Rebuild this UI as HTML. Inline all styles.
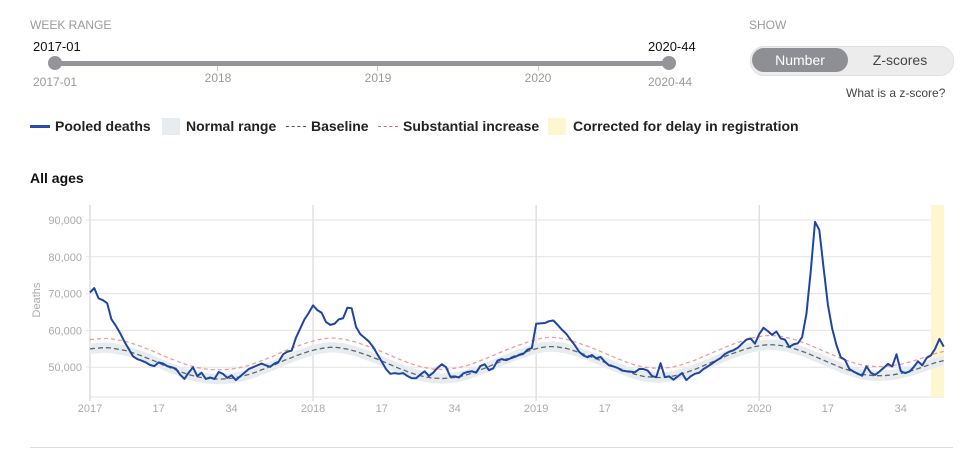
<!DOCTYPE html>
<html><head><meta charset="utf-8">
<style>
body{margin:0;width:977px;height:473px;background:#fff;font-family:"Liberation Sans",Arial,sans-serif;position:relative;overflow:hidden}
.abs{position:absolute;white-space:nowrap}
.lbl{color:#9a9a9a;font-size:12px}
.leg{font-size:14px;font-weight:bold;color:#222;top:118px}
.ctr{transform:translateX(-50%)}
</style></head><body>
<div class="abs lbl" style="left:30px;top:18px">WEEK RANGE</div>
<div class="abs" style="left:33px;top:39px;font-size:13px;color:#111">2017-01</div>
<div class="abs" style="left:648px;top:39px;font-size:13px;color:#111">2020-44</div>
<div class="abs" style="left:55px;top:61px;width:614px;height:5px;background:#94959a"></div>
<div class="abs" style="left:48px;top:56px;width:14px;height:14px;border-radius:50%;background:#94959a"></div>
<div class="abs" style="left:662px;top:56px;width:14px;height:14px;border-radius:50%;background:#94959a"></div>
<div class="abs" style="left:217px;top:66px;width:1px;height:5px;background:#ccc"></div>
<div class="abs" style="left:377px;top:66px;width:1px;height:5px;background:#ccc"></div>
<div class="abs" style="left:538px;top:66px;width:1px;height:5px;background:#ccc"></div>
<div class="abs lbl" style="left:33px;top:75px">2017-01</div>
<div class="abs lbl ctr" style="left:218px;top:71px">2018</div>
<div class="abs lbl ctr" style="left:378px;top:71px">2019</div>
<div class="abs lbl ctr" style="left:538px;top:71px">2020</div>
<div class="abs lbl" style="left:648px;top:75px">2020-44</div>

<div class="abs lbl" style="left:749px;top:18px">SHOW</div>
<div class="abs" style="left:750px;top:46px;width:202px;height:28px;border-radius:14px;background:#ececec;border:1px solid #e0e0e0"></div>
<div class="abs" style="left:752px;top:48px;width:96px;height:24px;border-radius:12px;background:#8e8f94;color:#fff;font-size:14px;text-align:center;line-height:24px">Number</div>
<div class="abs" style="left:850px;top:48px;width:100px;height:24px;color:#444;font-size:14px;text-align:center;line-height:24px">Z-scores</div>
<div class="abs" style="left:846px;top:86px;font-size:12px;color:#444">What is a z-score?</div>

<div class="abs" style="left:30px;top:125px;width:20px;height:3px;background:#2a4ea6"></div>
<div class="abs leg" style="left:55px">Pooled deaths</div>
<div class="abs" style="left:162px;top:118px;width:18px;height:17px;background:#e7ecf1"></div>
<div class="abs leg" style="left:186px">Normal range</div>
<div class="abs" style="left:286px;top:126px;width:20px;height:0;border-top:1px dashed #555"></div>
<div class="abs leg" style="left:311px">Baseline</div>
<div class="abs" style="left:378px;top:126px;width:20px;height:0;border-top:1px dashed #f06060"></div>
<div class="abs leg" style="left:403px">Substantial increase</div>
<div class="abs" style="left:548px;top:118px;width:18px;height:17px;background:#fdf6cf"></div>
<div class="abs leg" style="left:573px">Corrected for delay in registration</div>

<div class="abs" style="left:30px;top:170px;font-size:14px;font-weight:bold;color:#111">All ages</div>

<svg class="abs" style="left:0;top:0" width="977" height="473" id="chart"></svg>
<div class="abs" style="left:30px;top:447px;width:923px;height:1px;background:#ddd"></div>

<script>
const deaths=[70.3,71.5,68.7,68.2,67.4,63,61.3,59.3,57,55,53,52.2,51.8,51.3,50.6,50.3,51.3,51,50.3,50,49.6,48.0,46.8,48.5,50,47.6,48.5,46.8,47.2,46.8,48.7,48.2,47.1,47.8,46.5,47.5,48.5,49.5,50,50.5,51,50.5,50.1,51,51.5,53.5,54.2,54.5,58,60.5,63,64.8,
66.8,65.5,64.8,62.3,61.5,61.8,63,63.3,66.2,66,61,59,58,57,55.5,53.5,51.5,49.5,48.2,48.4,48.2,48.4,47.6,47,47,48,48.9,47.6,48.5,49.8,50.8,50,47.4,47.5,47.2,48.3,48.7,48.9,48.5,50.3,50.8,49.2,49.7,51.8,52.2,51.9,52.4,52.8,53.3,53.6,54.8,55.2,
61.8,61.9,62,62.5,62.7,61.5,60.2,59.1,57.5,56,54.2,53.2,52.7,53.3,52.4,52.8,51.5,50.5,50.2,49.8,49.1,48.9,48.8,48.6,49.5,49.5,49.1,47.6,47.3,51.1,47.3,47.5,46.6,47.5,48.4,46.5,47.5,48.2,48.5,49.5,50.2,51,51.8,52.5,53.6,54.2,54.6,55.3,56.4,57.5,57.8,56.4,
59,60.7,59.8,58.8,59.7,57.8,57.5,55.5,56.2,56.5,58.2,64.5,76,89.5,87.3,77,67,60.5,56,52.7,52,49.5,48.8,48.2,47.7,50.2,48.5,47.9,48.8,49.8,50.9,50.2,53.5,48.9,48.4,48.8,50,51.6,50.5,52.5,53.2,55,57.7,55.6];
const baseline=[55.0,55.1,55.2,55.3,55.3,55.2,55.0,54.8,54.6,54.3,53.9,53.5,53.1,52.6,52.2,51.7,51.2,50.6,50.2,49.7,49.3,48.8,48.4,48.0,47.7,47.4,47.2,47.0,46.9,46.8,46.8,
46.8,46.9,47.0,47.2,47.4,47.7,48.0,48.4,48.8,49.3,49.7,50.2,50.6,51.2,51.7,52.2,52.6,53.1,53.5,53.9,54.3,54.6,54.9,55.1,55.3,55.4,55.4,
55.3,55.1,54.9,54.6,54.3,53.9,53.5,53.1,52.6,52.2,51.7,51.2,50.7,50.2,49.7,49.3,48.8,48.4,48.0,47.7,47.4,47.2,47.0,47.0,46.9,
47.0,47.1,47.2,47.4,47.7,48.0,48.4,48.8,49.3,49.7,50.2,50.7,51.2,51.7,52.2,52.6,53.1,53.5,53.9,54.3,54.7,55.0,55.3,55.5,55.6,55.6,
55.5,55.3,55.1,54.8,54.4,54.0,53.6,53.2,52.7,52.3,51.8,51.3,50.8,50.3,49.8,49.4,48.9,48.5,48.1,47.8,47.5,47.4,47.3,47.2,47.2,
47.3,47.4,47.6,47.9,48.2,48.6,49.0,49.4,49.9,50.4,50.9,51.4,51.9,52.4,52.9,53.4,53.8,54.2,54.6,55.0,55.3,55.6,55.8,56.0,56.1,56.1,
56.0,55.9,55.7,55.4,55.1,54.7,54.3,53.9,53.4,52.9,52.4,51.9,51.4,50.9,50.4,49.9,49.5,49.1,48.7,48.4,48.1,47.9,47.8,47.7,47.7,
47.7,47.8,47.9,48.1,48.3,48.6,48.9,49.2,49.6,50.0,50.4,50.8,51.2,51.5,51.8];
const rangeHalfWidth=[1.4];
const increaseGap=[2.5];
const yTicks=[50000,60000,70000,80000,90000];
const xTickWeeks=[0,16,33,52,68,85,104,120,137,156,172,189];
const xTickLabels=["2017","17","34","2018","17","34","2019","17","34","2020","17","34"];
const yearStarts=[52,104,156];
const correctedFrom=[196];

const svg=document.getElementById('chart');
const NS='http://www.w3.org/2000/svg';
const X0=90,WK=4.29,TOP=205,BOT=397,RIGHT=944;
const x=i=>X0+i*WK;
const y=v=>220+(90000-v)/10000*36.8;
function mk(t,a){const e=document.createElementNS(NS,t);for(const k in a)e.setAttribute(k,a[k]);svg.appendChild(e);return e;}
yTicks.forEach(v=>{
 const l=mk('line',{x1:86,x2:RIGHT,y1:y(v),y2:y(v),stroke:'#e3e3e3'});
 
 
 const t=mk('text',{x:82,y:y(v)+4,'text-anchor':'end','font-size':11,fill:'#aaa','font-family':'Liberation Sans, sans-serif'});
 t.textContent=v.toLocaleString('en-US');
 
 
});
yearStarts.forEach(w=>{
 const l=mk('line',{x1:x(w),x2:x(w),y1:TOP,y2:BOT+4,stroke:'#e0e0e0','stroke-width':1.5});
 
 
});
const ax=mk('line',{x1:X0,x2:X0,y1:TOP,y2:BOT+4,stroke:'#ddd','stroke-width':1.5});


const bx=mk('line',{x1:X0,x2:RIGHT,y1:BOT,y2:BOT,stroke:'#e3e3e3'});


const band=mk('rect',{x:x(correctedFrom[0]),y:TOP,width:RIGHT-x(correctedFrom[0]),height:BOT-TOP,fill:'#fdf6cf'});


xTickWeeks.forEach((w,i)=>{
 const t=mk('text',{x:x(w),y:412,'text-anchor':'middle','font-size':11,fill:'#aaa','font-family':'Liberation Sans, sans-serif'});
 t.textContent=xTickLabels[i];
 
 
});
const yt=mk('text',{x:40,y:300,'text-anchor':'middle','font-size':11,fill:'#aaa',transform:'rotate(-90 40 300)','font-family':'Liberation Sans, sans-serif'});
yt.textContent='Deaths';


let up=baseline.map((b,i)=>x(i)+','+y((b+rangeHalfWidth[0])*1000));
let dn=baseline.map((b,i)=>x(i)+','+y((b-rangeHalfWidth[0])*1000)).reverse();
const nr=mk('polygon',{points:up.concat(dn).join(' '),fill:'#e7ecf1'});


const bl=mk('polyline',{points:baseline.map((b,i)=>x(i)+','+y(b*1000)).join(' '),fill:'none',stroke:'#666','stroke-width':1.3,'stroke-dasharray':'5,3'});


const si=mk('polyline',{points:baseline.map((b,i)=>x(i)+','+y((b+increaseGap[0])*1000)).join(' '),fill:'none',stroke:'#f49a9a','stroke-width':1.3,'stroke-dasharray':'4,3'});


const dl=mk('polyline',{points:deaths.map((d,i)=>x(i)+','+y(d*1000)).join(' '),fill:'none',stroke:'#1d45a3','stroke-width':2,'stroke-linejoin':'round'});


</script>
</body></html>
